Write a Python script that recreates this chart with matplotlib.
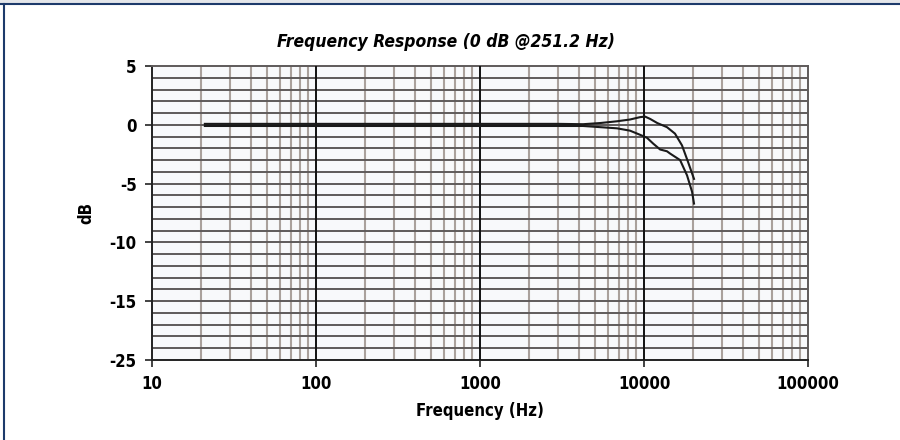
import numpy as np
import matplotlib
matplotlib.use("Agg")
import matplotlib.pyplot as plt
from matplotlib.lines import Line2D
from matplotlib.patches import Rectangle
from matplotlib.ticker import FixedLocator, NullFormatter

plt.rcParams['font.family'] = ['Liberation Sans Narrow', 'DejaVu Sans']
plt.rcParams['font.stretch'] = 'condensed'

# frequency response
freq_upper = [21, 30, 50, 100, 200, 500, 1000, 2000, 3000, 4250, 5400, 6850, 8220, 9460,
              10140, 10900, 12050, 13800, 15450, 17050, 18550, 20180]
db_upper = [0.08, 0.08, 0.08, 0.08, 0.08, 0.08, 0.08, 0.08, 0.08, 0.05, 0.15, 0.3, 0.45, 0.65,
            0.7, 0.5, 0.15, -0.2, -0.75, -1.75, -3.15, -4.6]

freq_lower = [21, 30, 50, 100, 200, 500, 1000, 2000, 3000, 4250, 5400, 6850, 8220, 9460,
              10420, 11380, 12540, 13800, 14440, 16600, 18300, 19640, 20180]
db_lower = [-0.1, -0.1, -0.1, -0.1, -0.1, -0.1, -0.1, -0.1, -0.1, -0.1, -0.2, -0.3, -0.5, -0.85,
            -1.1, -1.6, -2.1, -2.25, -2.45, -3.0, -4.3, -5.7, -6.7]

y_ticks = [5, 0, -5, -10, -15, -20]
y_tick_labels = ["5", "0", "-5", "-10", "-15", "-25"]
x_ticks = [10, 100, 1000, 10000, 100000]
x_tick_labels = ["10", "100", "1000", "10000", "100000"]

fig = plt.figure(figsize=(9, 4.4), dpi=100)
fig.patch.set_facecolor("white")

# frame bits of the original page
fig.patches.append(Rectangle((0, 1 - 4 / 440), 1, 4 / 440, transform=fig.transFigure,
                             facecolor="#e4e6ea", edgecolor="none", zorder=0))
fig.add_artist(Line2D([0, 1], [1 - 4.5 / 440, 1 - 4.5 / 440], transform=fig.transFigure,
                      color="#1d3a6b", lw=1.5))
fig.add_artist(Line2D([3.5 / 900, 3.5 / 900], [0, 1 - 4.5 / 440], transform=fig.transFigure,
                      color="#1d3a6b", lw=1.5))

ax = fig.add_axes([152 / 900, 80 / 440, 656 / 900, 294 / 440])
ax.set_facecolor("#f8f9fb")
ax.set_xscale("log")
ax.set_xlim(10, 100000)
ax.set_ylim(-20, 5)

# grid
minor_x = [m * 10 ** d for d in range(1, 5) for m in range(2, 10)]
for f in minor_x:
    ax.axvline(f, color="#aaa19c", lw=1.5, zorder=1)
for yv in range(-19, 5):
    ax.axhline(yv, color="#5e5a5a", lw=1.4, zorder=2)
for f in x_ticks[1:-1]:
    ax.axvline(f, color="#111111", lw=1.4, zorder=3)

ax.plot(freq_upper, db_upper, color="#1a1a1a", lw=1.5, zorder=5)
ax.plot(freq_lower, db_lower, color="#1a1a1a", lw=1.5, zorder=5)

for s in ax.spines.values():
    s.set_color("#222222")
    s.set_linewidth(1.4)
ax.spines["right"].set_color("#5e5a5a")
ax.spines["top"].set_color("#5e5a5a")

ax.xaxis.set_major_locator(FixedLocator(x_ticks))
ax.xaxis.set_minor_locator(FixedLocator([]))
ax.xaxis.set_minor_formatter(NullFormatter())
ax.set_xticks(x_ticks)
ax.set_xticklabels(x_tick_labels)
ax.set_yticks(y_ticks)
ax.set_yticklabels(y_tick_labels)
ax.tick_params(axis="both", direction="out", length=5, width=1.2, color="#222222",
               labelsize=12, pad=6)
for lab in ax.get_xticklabels() + ax.get_yticklabels():
    lab.set_fontweight("bold")

ax.set_xlabel("Frequency (Hz)", fontsize=12, fontweight="bold", labelpad=6)
ax.set_ylabel("dB", fontsize=12, fontweight="bold", labelpad=10)

fig.text(446 / 900, 1 - 42 / 440, "Frequency Response (0 dB @251.2 Hz)", ha="center", va="center",
         fontsize=12.5, fontweight="bold", fontstyle="italic")

fig.savefig("out.png", dpi=100)
